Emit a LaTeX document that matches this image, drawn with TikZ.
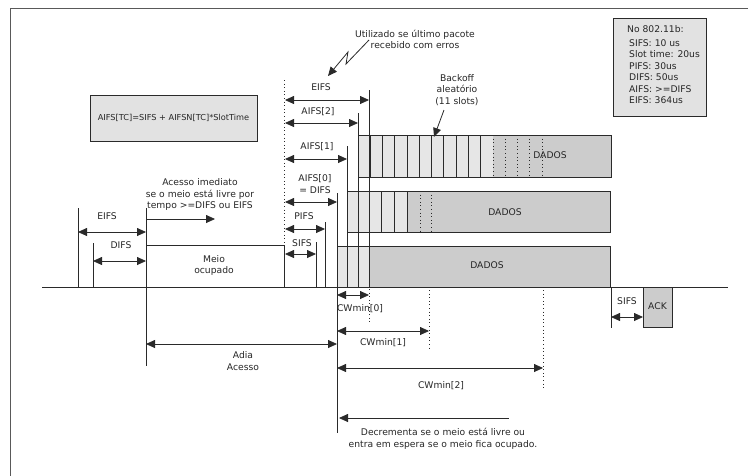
\documentclass[tikz,border=0pt]{standalone}
\usepackage{fontspec}
\setmainfont{DejaVu Sans}
\usetikzlibrary{arrows.meta}
\definecolor{slotgray}{HTML}{E6E6E6}
\definecolor{datagray}{HTML}{CCCCCC}
\definecolor{boxgray}{HTML}{E2E2E2}
\definecolor{linegray}{HTML}{2A2A2A}
\tikzset{
  ln/.style={line width=0.8pt, draw=linegray},
  tip/.tip={Triangle[length=9pt,width=8pt]},
  dim/.style={ln, tip-tip},
  rarr/.style={ln, -tip},
  larr/.style={ln, tip-},
  dots/.style={line width=0.9pt, draw=linegray, dash pattern=on 1pt off 2.6pt},
  lbl/.style={font=\fontsize{9.2}{11.6}\selectfont, inner sep=0pt, text=black!85},
  slbl/.style={font=\fontsize{8.2}{11.5}\selectfont, inner sep=0pt, text=black!85},
}
\begin{document}
\begin{tikzpicture}[x=1pt,y=-1pt]
\useasboundingbox (0,0) rectangle (750,475);
% frame
\draw[line width=1pt, draw=black!65] (748,8) -- (10,8) -- (10,476);

% ---------- bars ----------
% bar 1 (AIFS[2])
\fill[slotgray] (358,135) rectangle (493,177);
\fill[datagray] (493,135) rectangle (611,177);
\foreach \k in {1,...,10} \draw[ln] ({358+12.27*\k},135) -- ++(0,42);
\foreach \k in {11,...,15} \draw[dots] ({358+12.27*\k},135) -- ++(0,42);
\draw[ln] (358,135) rectangle (611,177);
\node[lbl] (d1) at (550,155) {DADOS};
% bar 2 (AIFS[1])
\fill[slotgray] (347,191) rectangle (407,232);
\fill[datagray] (407,191) rectangle (610,232);
\foreach \x in {381,394,407} \draw[ln] (\x,191) -- (\x,232);
\foreach \x in {420,431} \draw[dots] (\x,191) -- (\x,232);
\draw[ln] (347,191) rectangle (610,232);
\node[lbl] (d2) at (505,212) {DADOS};
% bar 3 (AIFS[0])
\fill[slotgray] (337,246) rectangle (369,287);
\fill[datagray] (369,246) rectangle (610,287);
\draw[ln] (337,246) rectangle (610,287);
\node[lbl] (d3) at (487,265) {DADOS};

% ---------- baseline ----------
\coordinate (b0) at (42,287);
\coordinate (b1) at (728,287);
\draw[ln] (b0) -- (b1);

% ---------- left part ----------
\draw[ln] (78,208) -- (78,287);
\draw[ln] (93,243) -- (93,287);
\draw[ln] (146,208) -- (146,366);
\draw[dim] (78,232) -- (146,232);
\node[lbl] (eifsL) at (107,216) {EIFS};
\draw[dim] (93,261) -- (146,261);
\node[lbl] (difsL) at (121,245) {DIFS};
\draw[rarr] (146,219) -- (215,219);
\node[lbl, align=center] (acesso) at (200,194.5) {Acesso imediato\\se o meio está livre por\\tempo >=DIFS ou EIFS};
\draw[ln, fill=white] (146,245) rectangle (284,287);
\node[lbl, align=center] (meio) at (214,265.5) {Meio\\ocupado};
\draw[dots] (284,80) -- (284,287);

% ---------- IFS markers ----------
\draw[ln] (369,90) -- (369,287);
\draw[dots] (369,289) -- (369,325);
\draw[dim] (285,100) -- (369,100);
\node[lbl] (eifs) at (321,87) {EIFS};
\draw[ln] (358,113) -- (358,287);
\draw[dim] (285,123) -- (358,123);
\node[lbl] (aifs2) at (318,112) {AIFS[2]};
\draw[ln] (347,146) -- (347,287);
\draw[dim] (285,159) -- (347,159);
\node[lbl] (aifs1) at (317,147) {AIFS[1]};
\draw[ln] (337,193) -- (337,433);
\draw[dim] (285,202) -- (337,202);
\node[lbl, align=center] (aifs0) at (315,184) {AIFS[0]\\= DIFS};
\draw[ln] (325,222) -- (325,287);
\draw[dim] (285,229) -- (325,229);
\node[lbl] (pifs) at (304,216) {PIFS};
\draw[ln] (316,242) -- (316,287);
\draw[dim] (285,254) -- (316,254);
\node[lbl] (sifs) at (302,243) {SIFS};

% ---------- notes ----------
\node[lbl, align=center] (util) at (415,39.5) {Utilizado se último pacote\\recebido com erros};
\draw[ln, -tip] (369,40) -- (346,64) -- (348,52) -- (328,76);
\node[lbl, align=center] (backoff) at (457,90) {Backoff\\aleatório\\(11 slots)};
\draw[ln, -tip] (444,110) -- (434,137);

\node[draw=linegray, line width=0.8pt, fill=boxgray, minimum width=167pt, minimum height=46pt, inner sep=0pt] (form) at (173.5,118) {};
\node[slbl] at (form.center) {AIFS[TC]=SIFS + AIFSN[TC]*SlotTime};

\node[draw=linegray, line width=0.8pt, fill=boxgray, minimum width=93pt, minimum height=98pt, inner sep=0pt] (std) at (659.5,67) {};
\node[lbl, anchor=west] at (627,29) {No 802.11b:};
\node[lbl, anchor=west] at (629,43) {SIFS: 10 us};
\node[lbl, anchor=west] at (629,54.5) {Slot time: 20us};
\node[lbl, anchor=west] at (629,66) {PIFS: 30us};
\node[lbl, anchor=west] at (629,77.5) {DIFS: 50us};
\node[lbl, anchor=west] at (629,89) {AIFS: >=DIFS};
\node[lbl, anchor=west] at (629,100.5) {EIFS: 364us};

% ---------- CWmin ----------
\draw[dim] (337,295) -- (369,295);
\node[lbl] (cw0) at (360,309) {CWmin[0]};
\draw[dots] (429,290) -- (429,350);
\draw[dim] (337,331) -- (429,331);
\node[lbl] (cw1) at (383,343) {CWmin[1]};
\draw[dots] (543,290) -- (543,390);
\draw[dim] (337,368) -- (543,368);
\node[lbl] (cw2) at (441,386) {CWmin[2]};
\draw[larr] (339,418) -- (509,418);
\node[lbl, align=center] (decr) at (443,438.5) {Decrementa se o meio está livre ou\\entra em espera se o meio fica ocupado.};

% Adia acesso
\draw[dim] (146,344) -- (337,344);
\node[lbl, align=center] (adia) at (243,361) {Adia\\Acesso};

% ---------- ACK ----------
\draw[ln] (611,287) -- (611,328);
\draw[ln, fill=datagray] (643,287) rectangle (672,327);
\node[lbl] (ack) at (657.5,306) {ACK};
\draw[dim] (611,317) -- (643,317);
\node[lbl] (sifs2) at (627,301) {SIFS};
\end{tikzpicture}
\end{document}
